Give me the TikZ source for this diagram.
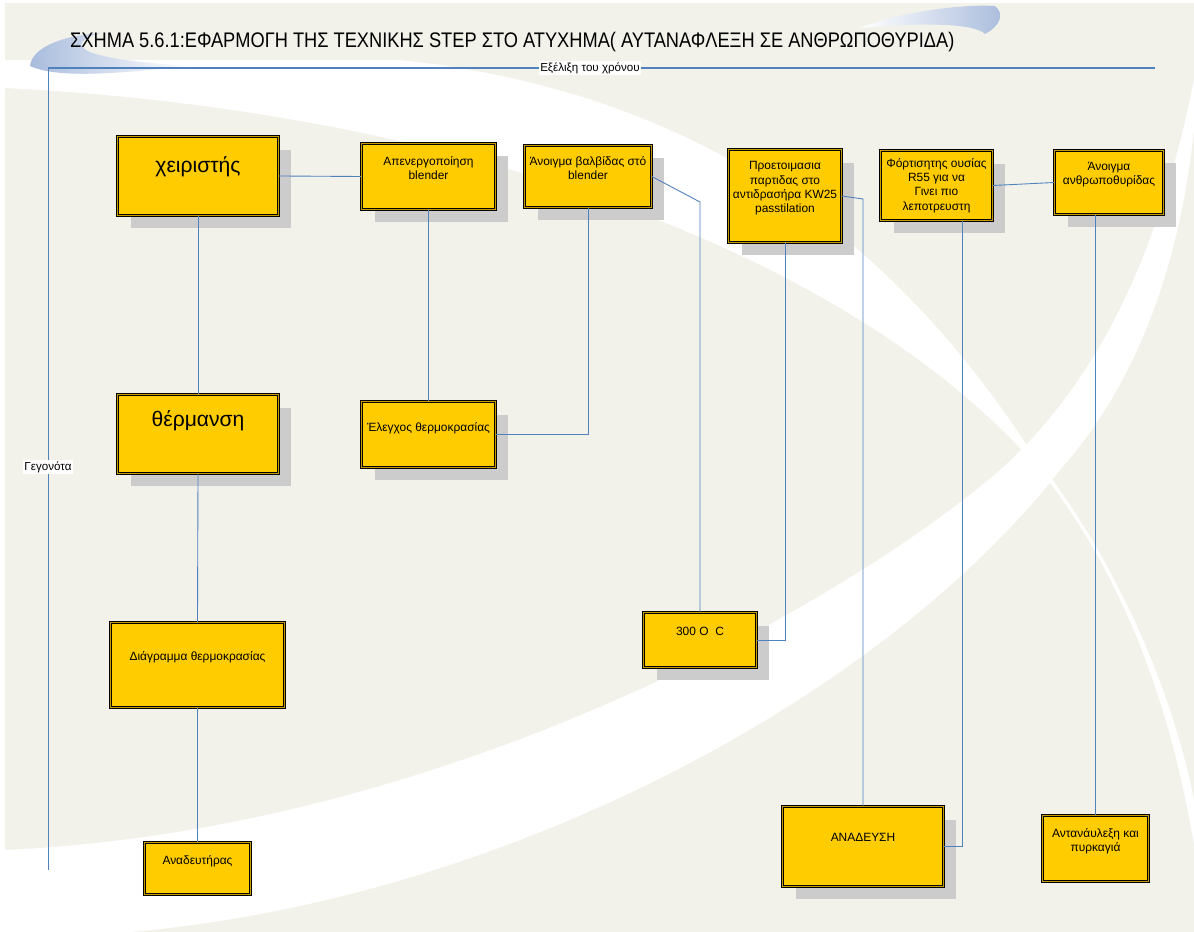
\documentclass[tikz,border=0pt]{standalone}
\usepackage{fontspec}
\setmainfont{Liberation Sans}
\usepackage{graphicx}
\usetikzlibrary{shadows,positioning}

\definecolor{evtyellow}{HTML}{FFCC00}
\definecolor{evtrim}{HTML}{C89B00}
\definecolor{linkblue}{HTML}{4F81BD}
\definecolor{bgbeige}{HTML}{F2F2EB}
\definecolor{swoosh}{HTML}{A9BCDD}
\definecolor{shadegray}{HTML}{CCCCCC}

\tikzset{
  evt/.style={draw=black,line width=0.4pt,double=evtrim,double distance=1pt,
    fill=evtyellow,inner sep=1pt,align=center,font=\fontsize{6.8}{8.1}\selectfont},
  shd/.style={drop shadow={shadow xshift=0.26cm,shadow yshift=-0.26cm,fill=shadegray,opacity=1}},
  lift/.style={text depth=#1},
  lift/.default=10pt,
  big/.style={font=\fontsize{12}{14}\selectfont},
  link/.style={draw=linkblue,line width=0.5pt},
  tag/.style={fill=white,inner sep=0.8pt,font=\fontsize{6.6}{8}\selectfont}
}

\begin{document}
\begin{tikzpicture}[x=0.02cm,y=-0.02cm]
\useasboundingbox (0,0) rectangle (1194,932);

% background and swooshes
\fill[bgbeige] (5,3) rectangle (1194,932);
\fill[white] (5,60) -- (5,88) .. controls (450,110) and (850,250) .. (1040,470)
  .. controls (1120,570) and (1170,700) .. (1194,845) -- (1194,800)
  .. controls (1170,680) and (1110,550) .. (1030,450)
  .. controls (880,220) and (680,90) .. (400,60) -- cycle;
\fill[white] (1194,80) .. controls (1160,250) and (1100,380) .. (1000,470)
  .. controls (850,600) and (450,830) .. (5,850) -- (5,932) -- (130,932)
  .. controls (500,900) and (880,700) .. (1060,470)
  .. controls (1140,380) and (1180,260) .. (1194,130) -- cycle;
\shade[left color=swoosh,right color=white] (30,66) .. controls (32,48) and (60,36) .. (100,33)
  .. controls (70,42) and (62,58) .. (190,66) .. controls (130,72) and (60,80) .. (30,66) -- cycle;
\shade[left color=white,right color=swoosh] (860,28) .. controls (900,12) and (960,4) .. (995,6)
  .. controls (1005,14) and (1000,26) .. (985,34) .. controls (975,24) and (930,22) .. (860,28) -- cycle;

\node[anchor=west,big] (title) at (64,42)
  {\scalebox{0.865}[1]{ΣΧΗΜΑ 5.6.1:ΕΦΑΡΜΟΓΗ ΤΗΣ ΤΕΧΝΙΚΗΣ STEP ΣΤΟ ΑΤΥΧΗΜΑ( ΑΥΤΑΝΑΦΛΕΞΗ ΣΕ ΑΝΘΡΩΠΟΘΥΡΙΔΑ)}};

% axes
\coordinate (t0) at (48,68);
\coordinate (tEnd) at (1155,68);
\coordinate (eEnd) at (48,870);
\draw[link,line width=0.7pt] (t0) -- (tEnd);
\draw[link] (t0) -- (eEnd);
\node[tag] (timelbl) at (590,68) {Εξέλιξη του χρόνου};
\node[tag] (evtlbl) at (48,467) {Γεγονότα};

% events
\node[evt,shd,big,lift=13pt,minimum width=3.22cm,minimum height=1.58cm] (oper) at (198,176) {χειριστής};
\node[evt,shd,lift,minimum width=2.68cm,minimum height=1.32cm] (offblend) at (428.5,176.5) {Απενεργοποίηση\\blender};
\node[evt,shd,lift,minimum width=2.54cm,minimum height=1.24cm] (valve) at (588,176.5) {Άνοιγμα βαλβίδας στό\\blender};
\node[evt,shd,lift,minimum width=2.26cm,minimum height=1.86cm] (prep) at (785,196) {Προετοιμασια\\παρτιδας στο\\αντιδρασήρα KW25\\passtilation};
\node[evt,shd,minimum width=2.24cm,minimum height=1.40cm] (charge) at (936.5,185.5) {Φόρτισητης ουσίας\\R55 για να\\Γινει πιο\\λεποτρευστη};
\node[evt,shd,lift,minimum width=2.18cm,minimum height=1.28cm] (hatch) at (1109,182.5) {Άνοιγμα\\ανθρωποθυρίδας};
\node[evt,shd,big,lift=17.5pt,minimum width=3.22cm,minimum height=1.58cm] (heat) at (198,434) {θέρμανση};
\node[evt,shd,lift=8.5pt,minimum width=2.68cm,minimum height=1.32cm] (tcheck) at (428.5,434.5) {Έλεγχος θερμοκρασίας};
\node[evt,shd,lift,minimum width=2.26cm,minimum height=1.10cm] (t300) at (700,640) {300 O\ \ C};
\node[evt,lift,minimum width=3.48cm,minimum height=1.70cm] (tdiag) at (197.5,665) {Διάγραμμα θερμοκρασίας};
\node[evt,lift,minimum width=2.12cm,minimum height=1.04cm] (stirrer) at (197.5,868.5) {Αναδευτήρας};
\node[evt,shd,lift,minimum width=3.22cm,minimum height=1.60cm] (stir) at (863,846.5) {ΑΝΑΔΕΥΣΗ};
\node[evt,lift,minimum width=2.12cm,minimum height=1.32cm] (fire) at (1095.5,848.5) {Αντανάυλεξη και\\πυρκαγιά};

% links
\coordinate (bendA) at (700,202);
\coordinate (bendB) at (863,199);
\coordinate (bendC) at (962,846.5);
\draw[link] (oper.east) -- (offblend.west);
\draw[link] (oper.south) -- (heat.north);
\draw[link] (heat.south) -- (tdiag.north);
\draw[link] (tdiag.south) -- (stirrer.north);
\draw[link] (offblend.south) -- (tcheck.north);
\draw[link] (valve.south) |- (tcheck.east);
\draw[link] (valve.east) -- (bendA) -- (t300.north);
\draw[link] (prep.south) |- (t300.east);
\draw[link] (prep.east) -- (bendB) -- (stir.north);
\draw[link] (charge.south -| bendC) -- (bendC) -- (stir.east);
\draw[link] (charge.east) -- (hatch.west);
\draw[link] (hatch.south -| fire.north) -- (fire.north);
\end{tikzpicture}
\end{document}
